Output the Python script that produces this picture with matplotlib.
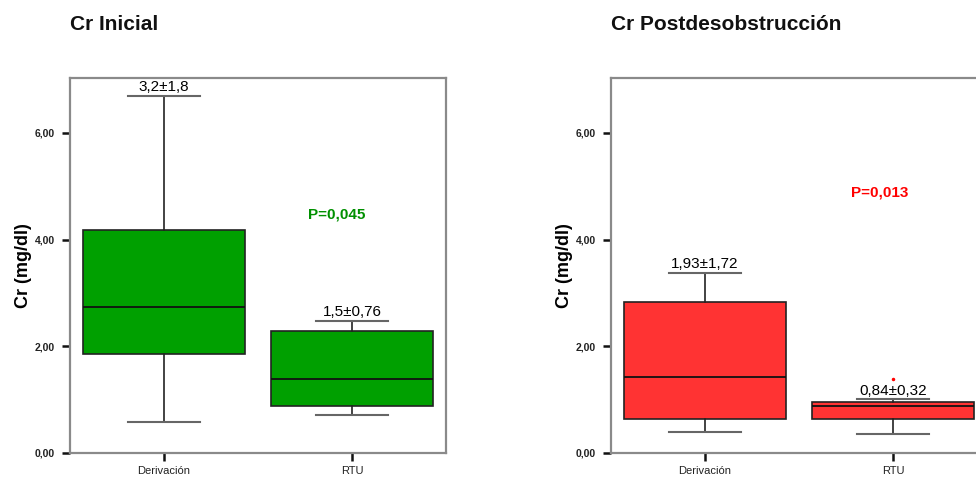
import matplotlib
matplotlib.use("Agg")
import matplotlib.pyplot as plt

plt.rcParams['font.family'] = ['Liberation Sans', 'DejaVu Sans']

categories = ["Derivación", "RTU"]

# Cr Inicial
ini_whislo = [0.58, 0.72]
ini_q1 = [1.86, 0.89]
ini_med = [2.74, 1.39]
ini_q3 = [4.18, 2.28]
ini_whishi = [6.70, 2.48]
ini_fliers = [[], []]
ini_labels = ["3,2±1,8", "1,5±0,76"]
ini_p = "P=0,045"
ini_p_pos = (1.92, 4.47)

# Cr Postdesobstrucción
post_whislo = [0.39, 0.36]
post_q1 = [0.64, 0.64]
post_med = [1.43, 0.89]
post_q3 = [2.84, 0.95]
post_whishi = [3.38, 1.01]
post_fliers = [[], [1.38]]
post_labels = ["1,93±1,72", "0,84±0,32"]
post_p = "P=0,013"
post_p_pos = (1.93, 4.88)

yticks = [0, 2, 4, 6]
ytick_labels = ["0,00", "2,00", "4,00", "6,00"]

W, H = 976, 478
fig = plt.figure(figsize=(W / 100, H / 100), dpi=100)

def panel(left_px, title, whislo, q1, med, q3, whishi, fliers, labels,
          ptxt, ppos, fill, pcolor, flier_color):
    ax = fig.add_axes([left_px / W, (H - 453) / H, 376 / W, (453 - 78) / H])
    stats = []
    for i in range(len(categories)):
        stats.append(dict(med=med[i], q1=q1[i], q3=q3[i], whislo=whislo[i],
                          whishi=whishi[i], fliers=fliers[i], label=categories[i]))
    ax.bxp(stats, positions=[1, 2], widths=0.857, patch_artist=True,
           showfliers=True,
           boxprops=dict(facecolor=fill, edgecolor="#222222", linewidth=1.2),
           medianprops=dict(color="#111111", linewidth=1.3),
           whiskerprops=dict(color="#222222", linewidth=1.2),
           capprops=dict(color="#666666", linewidth=1.5),
           capwidths=0.38,
           flierprops=dict(marker='.', markersize=3, markerfacecolor=flier_color,
                           markeredgecolor=flier_color, linestyle='none'))
    ax.set_xlim(0.5, 2.5)
    ax.set_ylim(0, 7.03)
    ax.set_yticks(yticks)
    ax.set_yticklabels(ytick_labels, fontsize=7.5, fontweight='bold', color="#222222")
    ax.set_xticks([1, 2])
    ax.set_xticklabels(categories, fontsize=8, color="#222222")
    ax.tick_params(axis='both', direction='out', length=6, width=1.8, color="#111111")
    ax.tick_params(axis='y', pad=5)
    ax.tick_params(axis='x', pad=3)
    for s in ax.spines.values():
        s.set_color("#8a8a8a")
        s.set_linewidth(1.6)
    ax.set_ylabel("Cr (mg/dl)", fontsize=13, fontweight='bold')
    ax.yaxis.set_label_coords(-38 / 376, 0.5)
    for i, lab in enumerate(labels):
        ax.annotate(lab, (i + 1, whishi[i]), xytext=(0, 1), textcoords='offset points',
                    ha='center', va='bottom', fontsize=11)
    ax.text(ppos[0], ppos[1], ptxt, color=pcolor, fontsize=11, fontweight='bold',
            ha='center', va='center')
    fig.text(left_px / W, 1 - 25 / H, title, fontsize=15, fontweight='bold',
             ha='left', va='center', color="#111111")
    return ax

panel(70, "Cr Inicial", ini_whislo, ini_q1, ini_med, ini_q3, ini_whishi, ini_fliers,
      ini_labels, ini_p, ini_p_pos, "#00a000", "#009000", "#00a000")
panel(611, "Cr Postdesobstrucción", post_whislo, post_q1, post_med, post_q3, post_whishi,
      post_fliers, post_labels, post_p, post_p_pos, "#ff3333", "#ff0000", "#ff0000")

fig.savefig("out.png", dpi=100)
